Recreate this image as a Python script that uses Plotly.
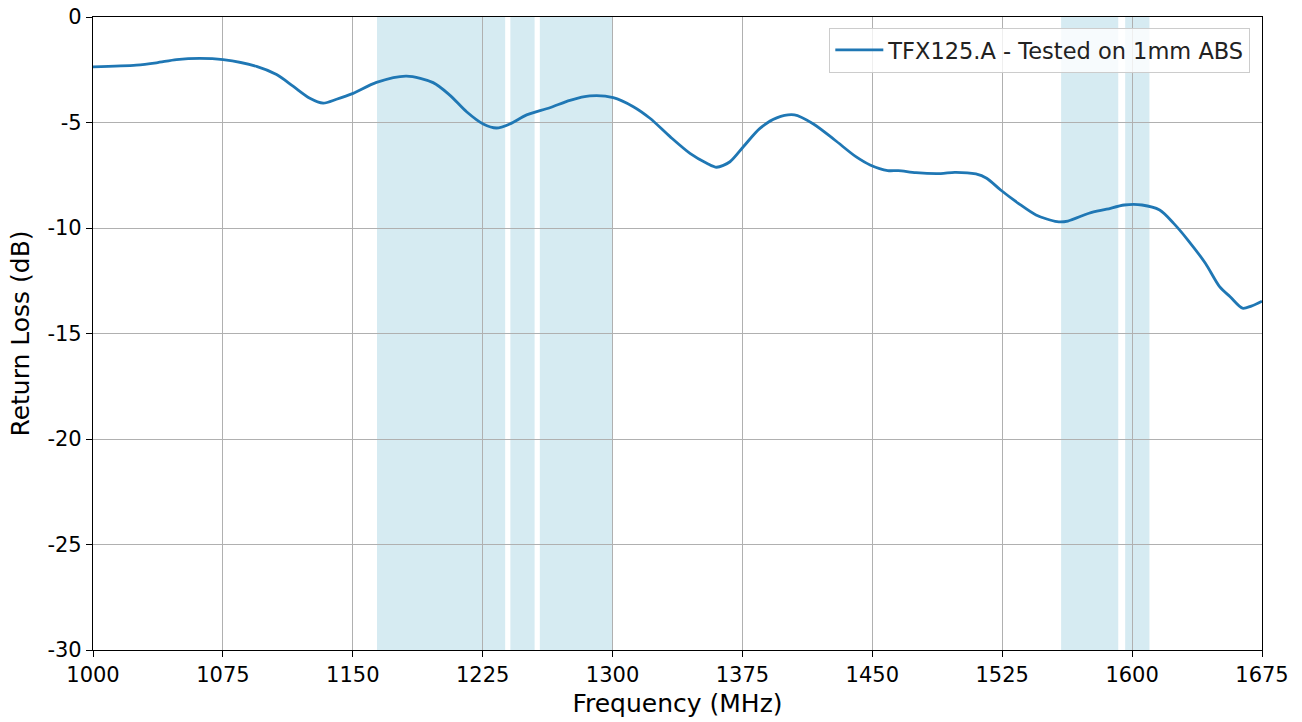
import plotly.graph_objects as go

# Data
frequency_mhz = [1000, 1025, 1036.6, 1048.2, 1061.6, 1075.1, 1094.4, 1106, 1115.5, 1125.2,
                 1132.9, 1140.6, 1150.2, 1163.7, 1181, 1196.4, 1206, 1215.7, 1225.3, 1233,
                 1240.7, 1250.4, 1263.8, 1275.4, 1286.9, 1300.4, 1312, 1321.6, 1333.2, 1344.7,
                 1354.4, 1360.1, 1367.8, 1375.5, 1385.1, 1394.8, 1405, 1416, 1428.3, 1440.5,
                 1448.7, 1458.9, 1465, 1475.2, 1489.5, 1497.6, 1509.8, 1516, 1524.1, 1534.3,
                 1544.5, 1556.7, 1562.9, 1575.1, 1585.3, 1595.5, 1605.7, 1615.9, 1624, 1632.2,
                 1642.3, 1650.5, 1656.6, 1663.7, 1668.8, 1675]
return_loss_db = [-2.36, -2.28, -2.17, -2.02, -1.96, -2.02, -2.34, -2.73, -3.28, -3.85,
                  -4.08, -3.9, -3.62, -3.1, -2.8, -3.11, -3.7, -4.49, -5.07, -5.26,
                  -5.07, -4.64, -4.3, -3.95, -3.74, -3.82, -4.25, -4.8, -5.67, -6.46,
                  -6.93, -7.12, -6.86, -6.15, -5.28, -4.78, -4.64, -5.07, -5.83, -6.62,
                  -7.01, -7.28, -7.28, -7.38, -7.42, -7.36, -7.44, -7.64, -8.2, -8.83,
                  -9.38, -9.7, -9.67, -9.3, -9.11, -8.91, -8.91, -9.15, -9.78, -10.57,
                  -11.67, -12.78, -13.26, -13.8, -13.7, -13.47]
series_name = "TFX125.A - Tested on 1mm ABS"

band_starts = [1164, 1241, 1258, 1559, 1596]
band_ends = [1238, 1255, 1300, 1592, 1610]

x_ticks = [1000, 1075, 1150, 1225, 1300, 1375, 1450, 1525, 1600, 1675]
y_ticks = [-30, -25, -20, -15, -10, -5, 0]

FONT = "DejaVu Sans"
fig = go.Figure()

for s, e in zip(band_starts, band_ends):
    fig.add_vrect(x0=s, x1=e, fillcolor="rgb(214,235,242)", line_width=0, layer="below")

fig.add_trace(go.Scatter(
    x=frequency_mhz, y=return_loss_db, mode="lines", name=series_name,
    line=dict(color="#1f77b4", width=2.8, shape="spline", smoothing=0.8),
))

fig.update_layout(
    width=1302, height=722,
    margin=dict(l=93, r=40, t=17, b=72, autoexpand=False),
    plot_bgcolor="white", paper_bgcolor="white",
    font=dict(family=FONT, size=21, color="black"),
    showlegend=True,
    legend=dict(
        x=0.99, y=0.983, xanchor="right", yanchor="top",
        bgcolor="rgba(255,255,255,0.8)", bordercolor="#cccccc", borderwidth=1,
        font=dict(family=FONT, size=22.5, color="#222222"),
        itemwidth=48,
    ),
)
fig.update_xaxes(
    range=[1000, 1675], tickvals=x_ticks, ticktext=[str(v) for v in x_ticks],
    showgrid=True, gridcolor="#b0b0b0", gridwidth=1, automargin=False,
    showline=True, linecolor="black", linewidth=1.2, mirror=True,
    ticks="outside", ticklen=6, tickcolor="black", ticklabeloverflow="allow",
    title=dict(text="Frequency (MHz)", standoff=8), zeroline=False,
)
fig.update_yaxes(
    range=[-30, 0], tickvals=y_ticks, ticktext=[str(v) for v in y_ticks],
    showgrid=True, gridcolor="#b0b0b0", gridwidth=1, automargin=False,
    showline=True, linecolor="black", linewidth=1.2, mirror=True,
    ticks="outside", ticklen=6, tickcolor="black", ticklabeloverflow="allow",
    title=dict(text="Return Loss (dB)", standoff=10), zeroline=False,
)

fig.write_html("out.html", config={"displayModeBar": False},
               post_script="document.body.style.margin='0';")
